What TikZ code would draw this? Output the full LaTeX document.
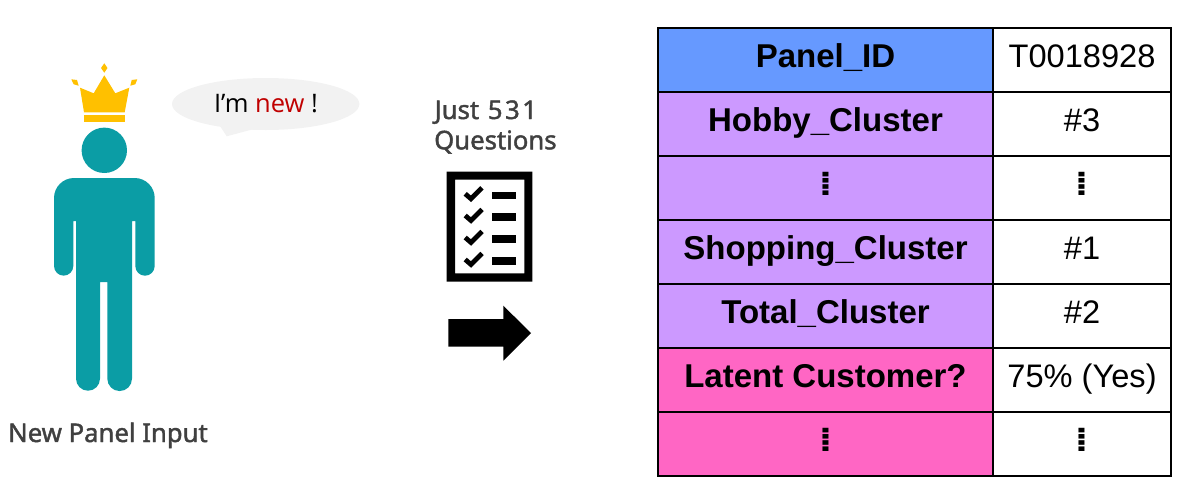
\documentclass[tikz,border=0pt]{standalone}
\usepackage{fontspec}
\setmainfont{Liberation Sans}
\newfontfamily\labelfont[FakeBold=1.6]{Noto Sans}
\newfontfamily\saysfont{Open Sans}
\newfontfamily\dotsfont{DejaVu Sans}
\definecolor{teal1}{HTML}{0B9DA5}
\definecolor{crown}{HTML}{FFC000}
\definecolor{bubble}{HTML}{F2F2F2}
\definecolor{blue1}{HTML}{6699FF}
\definecolor{purple1}{HTML}{CC99FF}
\definecolor{pink1}{HTML}{FF66C4}
\definecolor{greytext}{HTML}{404040}
\definecolor{newred}{HTML}{C00000}
\tikzset{
  cell/.style={draw=black,line width=1.9pt,inner sep=0pt,outer sep=0pt,anchor=north west,align=center,text height=22pt,text depth=7pt},
  keycell/.style={cell,minimum width=335pt,minimum height=64pt,font=\fontsize{33}{36}\selectfont\bfseries},
  valcell/.style={cell,minimum width=178pt,minimum height=64pt,font=\fontsize{32.6}{36}\selectfont},
  caption/.style={inner sep=0pt,anchor=base west,text=greytext,font=\labelfont\fontsize{25.7}{30}\selectfont},
  vdots/.style={font=\dotsfont\bfseries\fontsize{34}{34}\selectfont},
}
\begin{document}
\begin{tikzpicture}[x=1pt,y=-1pt]
\useasboundingbox (0,0) rectangle (1190,501);
% person
\fill[teal1] (104.3,150.3) circle (22.7);
\fill[teal1] (54,198) arc[start angle=180,end angle=270,radius=20] -- (134.7,178) arc[start angle=270,end angle=360,radius=20]
  -- (154.7,266) arc[start angle=0,end angle=180,radius=9.7] -- (135.3,221) -- (132,221)
  -- (132,378.7) arc[start angle=0,end angle=180,radius=12.35] -- (107.3,282) -- (100,282)
  -- (100,378.7) arc[start angle=0,end angle=180,radius=12] -- (76,221) -- (73.3,221)
  -- (73.3,266) arc[start angle=0,end angle=180,radius=9.65] -- cycle;
% crown
\fill[crown] (104.3,63.3) -- (107.5,68) -- (104.3,72.7) -- (101,68) -- cycle;
\fill[crown] (71.3,79.3) -- (77,80) -- (78.7,85.7) -- (73.7,84.3) -- cycle;
\fill[crown] (137.3,79.3) -- (131.7,80) -- (130.3,85.7) -- (135.3,84.3) -- cycle;
\fill[crown] (80,87.7) -- (93.7,93.3) -- (104.3,75.3) -- (115.3,93.3) -- (129.3,87.7) -- (124.7,112.3) -- (84,112.3) -- cycle;
\fill[crown] (84,115.3) rectangle (124.7,122.3);
% speech bubble
\fill[bubble] (265.7,104) ellipse [x radius=93.7,y radius=26];
\fill[bubble] (220,126) -- (226.7,136.3) -- (254,129) -- cycle;
\node[inner sep=0pt,anchor=base] (say) at (266,112.7) {\saysfont\fontsize{25.5}{28}\selectfont I’m {\color{newred}new} !};
% captions
\node[caption] (cap1) at (8,442) {New Panel Input};
\node[caption] (cap2) at (434.5,119) {Just\kern2pt\ 5\kern2.5pt 3\kern2.5pt 1};
\node[caption] (cap3) at (434,149.3) {Questions};
% checklist
\fill[black,even odd rule] (446.7,171.7) rectangle (532.3,281.7) (455,179.7) rectangle (524.3,273.3);
\foreach \y in {195.3,217,239,261}{
  \fill[black] (492,\y-3.6) rectangle (516,\y+3.6);
  \draw[black,line width=4.8pt] (465.2,\y-1.5) -- (471,\y+3.5) -- (482,\y-7.5);
}
% arrow
\fill[black] (448.3,319) -- (503.3,319) -- (503.3,305.7) -- (531,333) -- (503.3,360.7) -- (503.3,346.7) -- (448.3,346.7) -- cycle;
% table
\node[keycell,fill=blue1]   (k1) at (658,28)  {Panel\_ID};
\node[keycell,fill=purple1] (k2) at (658,92)  {Hobby\_Cluster};
\node[keycell,fill=purple1,vdots] (k3) at (658,156) {⁞};
\node[keycell,fill=purple1] (k4) at (658,220) {Shopping\_Cluster};
\node[keycell,fill=purple1] (k5) at (658,284) {Total\_Cluster};
\node[keycell,fill=pink1]   (k6) at (658,348) {Latent Customer?};
\node[keycell,fill=pink1,vdots] (k7) at (658,412) {⁞};
\node[valcell] (v1) at (993,28)  {T0018928};
\node[valcell] (v2) at (993,92)  {\#3};
\node[valcell,vdots] (v3) at (993,156) {⁞};
\node[valcell] (v4) at (993,220) {\#1};
\node[valcell] (v5) at (993,284) {\#2};
\node[valcell] (v6) at (993,348) {75\% (Yes)};
\node[valcell,vdots] (v7) at (993,412) {⁞};
\end{tikzpicture}
\end{document}
